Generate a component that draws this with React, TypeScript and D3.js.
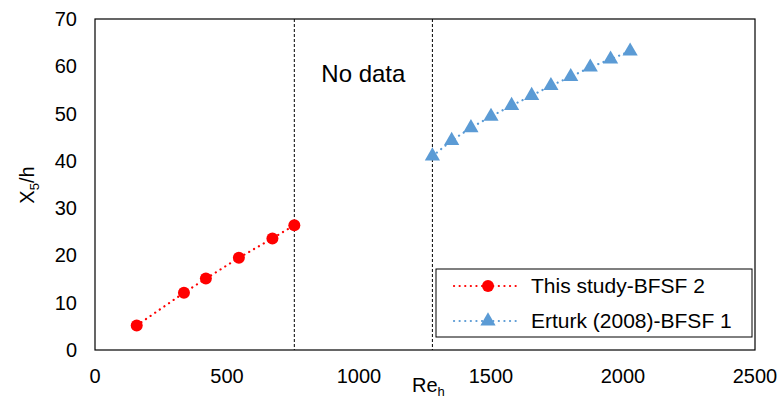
import React, { useEffect, useRef } from 'react'
import * as d3 from 'd3'

// This study - BFSF 2
const studyRe = [158, 337, 420, 545, 672, 755]
const studyX = [5.2, 12.1, 15.1, 19.5, 23.6, 26.4]

// Erturk (2008) - BFSF 1
const erturkRe = [1278, 1351, 1424, 1500, 1578, 1654, 1727, 1802, 1876, 1953, 2027]
const erturkX = [41.0, 44.3, 47.0, 49.4, 51.7, 53.8, 55.9, 57.8, 59.8, 61.5, 63.2]

const xTicks = [0, 500, 1000, 1500, 2000, 2500]
const yTicks = [0, 10, 20, 30, 40, 50, 60, 70]
const noDataBounds = [755, 1278]
const legendLabels = ['This study-BFSF 2', 'Erturk (2008)-BFSF 1']

const W = 781
const H = 401
const FONT = '"Liberation Sans", Arial, sans-serif'

export default function App () {
  const ref = useRef<SVGSVGElement>(null)

  useEffect(() => {
    const svg = d3.select(ref.current)
    svg.selectAll('*').remove()

    const x = d3.scaleLinear().domain([0, 2500]).range([95, 755])
    const y = d3.scaleLinear().domain([0, 70]).range([350, 19])

    const g = svg.append('g').attr('font-family', FONT)

    g.append('rect')
      .attr('x', x(0)).attr('y', y(70))
      .attr('width', x(2500) - x(0)).attr('height', y(0) - y(70))
      .attr('fill', 'white').attr('stroke', 'black').attr('stroke-width', 1.2)

    // tick labels
    g.selectAll('.xt').data(xTicks).enter().append('text')
      .attr('x', d => x(d)).attr('y', 383)
      .attr('text-anchor', 'middle').attr('font-size', 20)
      .text(d => d)
    g.selectAll('.yt').data(yTicks).enter().append('text')
      .attr('x', 77).attr('y', d => y(d) + 7)
      .attr('text-anchor', 'end').attr('font-size', 20)
      .text(d => d)

    // no data boundaries
    g.selectAll('.nd').data(noDataBounds).enter().append('line')
      .attr('x1', d => x(d)).attr('x2', d => x(d))
      .attr('y1', y(70)).attr('y2', y(0))
      .attr('stroke', 'black').attr('stroke-width', 1)
      .attr('stroke-dasharray', '3,2')

    g.append('text')
      .attr('x', (x(noDataBounds[0]) + x(noDataBounds[1])) / 2).attr('y', 82)
      .attr('text-anchor', 'middle').attr('font-size', 24)
      .text('No data')

    const line = d3.line<[number, number]>().x(d => x(d[0])).y(d => y(d[1]))

    const study = studyRe.map((r, i) => [r, studyX[i]] as [number, number])
    const erturk = erturkRe.map((r, i) => [r, erturkX[i]] as [number, number])

    g.append('path').attr('d', line(study)!)
      .attr('fill', 'none').attr('stroke', '#FF0000').attr('stroke-width', 2.2)
      .attr('stroke-dasharray', '0.1,5.5').attr('stroke-linecap', 'round')
    g.append('path').attr('d', line(erturk)!)
      .attr('fill', 'none').attr('stroke', '#5B9BD5').attr('stroke-width', 2.2)
      .attr('stroke-dasharray', '0.1,5.5').attr('stroke-linecap', 'round')

    const tri = d3.symbol().type(d3.symbolTriangle).size(100)

    g.selectAll('.st').data(study).enter().append('circle')
      .attr('cx', d => x(d[0])).attr('cy', d => y(d[1])).attr('r', 6)
      .attr('fill', '#FF0000')
    g.selectAll('.et').data(erturk).enter().append('path')
      .attr('d', tri()!)
      .attr('transform', d => `translate(${x(d[0])},${y(d[1])})`)
      .attr('fill', '#5B9BD5')

    // legend
    const lg = g.append('g')
    lg.append('rect')
      .attr('x', 436).attr('y', 269).attr('width', 316).attr('height', 68)
      .attr('fill', 'white').attr('stroke', 'black').attr('stroke-width', 1)
    const rows = [286, 321]
    const colors = ['#FF0000', '#5B9BD5']
    rows.forEach((ry, i) => {
      lg.append('line')
        .attr('x1', 454).attr('x2', 518).attr('y1', ry).attr('y2', ry)
        .attr('stroke', colors[i]).attr('stroke-width', 2.2)
        .attr('stroke-dasharray', '0.1,5.5').attr('stroke-linecap', 'round')
      if (i === 0) {
        lg.append('circle').attr('cx', 488).attr('cy', ry).attr('r', 6).attr('fill', colors[i])
      } else {
        lg.append('path').attr('d', tri()!)
          .attr('transform', `translate(488,${ry})`).attr('fill', colors[i])
      }
      lg.append('text')
        .attr('x', 531).attr('y', ry + 7).attr('font-size', 21)
        .text(legendLabels[i])
    })

    // axis titles
    const xt = g.append('text')
      .attr('x', 412).attr('y', 392).attr('font-size', 20)
    xt.append('tspan').text('Re')
    xt.append('tspan').attr('font-size', 13).attr('dy', 4).text('h')

    const yt = g.append('text')
      .attr('transform', 'translate(34,185) rotate(-90)')
      .attr('text-anchor', 'middle').attr('font-size', 20)
    yt.append('tspan').text('X')
    yt.append('tspan').attr('font-size', 13).attr('dy', 5).text('5')
    yt.append('tspan').attr('dy', -5).text('/h')
  }, [])

  return (
    <svg ref={ref} width={W} height={H} style={{ position: 'absolute', left: 0, top: 0, background: 'white' }} />
  )
}
